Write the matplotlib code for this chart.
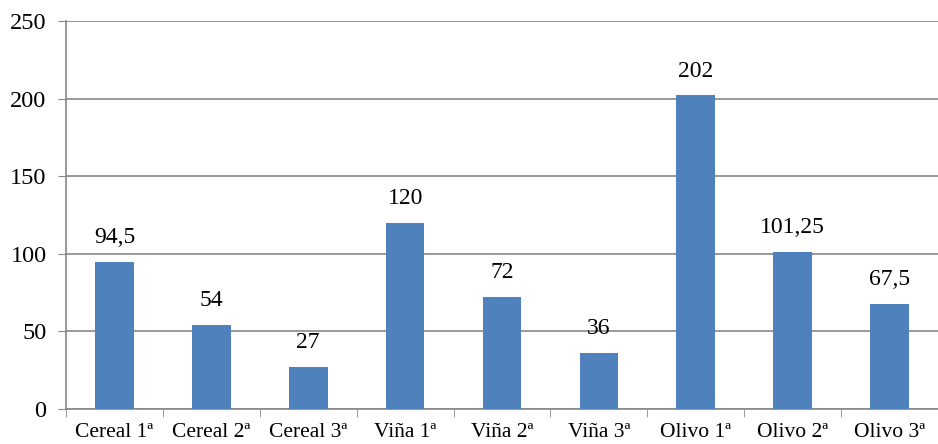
import matplotlib.pyplot as plt
import numpy as np

plt.rcParams['font.family'] = ['Liberation Serif', 'DejaVu Serif']

categories = ['Cereal 1ª', 'Cereal 2ª', 'Cereal 3ª', 'Viña 1ª', 'Viña 2ª',
              'Viña 3ª', 'Olivo 1ª', 'Olivo 2ª', 'Olivo 3ª']
values = [94.5, 54, 27, 120, 72, 36, 202, 101.25, 67.5]
value_labels = ['94,5', '54', '27', '120', '72', '36', '202', '101,25', '67,5']

fig = plt.figure(figsize=(9.38, 4.44), dpi=100)
ax = fig.add_axes([66 / 938, 35 / 444, 872 / 938, 388 / 444])

x = np.arange(len(categories))
bars = ax.bar(x, values, width=0.4, color='#4F81BD', zorder=3)

for b, lab in zip(bars, value_labels):
    ax.annotate(lab, (b.get_x() + b.get_width() / 2, b.get_height()),
                xytext=(0, 10), textcoords='offset points',
                ha='center', va='bottom', fontsize=17)

ax.set_xlim(-0.5, len(categories) - 0.5)
ax.set_ylim(0, 250)
ax.set_yticks(range(0, 251, 50))
ax.tick_params(axis='y', labelsize=17.5, length=6, color='#888888', pad=8)
ax.yaxis.grid(True, color='#888888', linewidth=1.2, zorder=0)

ax.set_xticks(x)
ax.set_xticklabels(categories, fontsize=15.5)
ax.set_xticks(np.arange(-0.5, len(categories), 1), minor=True)
ax.tick_params(axis='x', which='major', length=0, pad=10)
ax.tick_params(axis='x', which='minor', length=6, color='#888888')

for s in ['top', 'right']:
    ax.spines[s].set_visible(False)
for s in ['left', 'bottom']:
    ax.spines[s].set_color('#888888')
    ax.spines[s].set_linewidth(1.2)

fig.savefig('out.png', dpi=100)
